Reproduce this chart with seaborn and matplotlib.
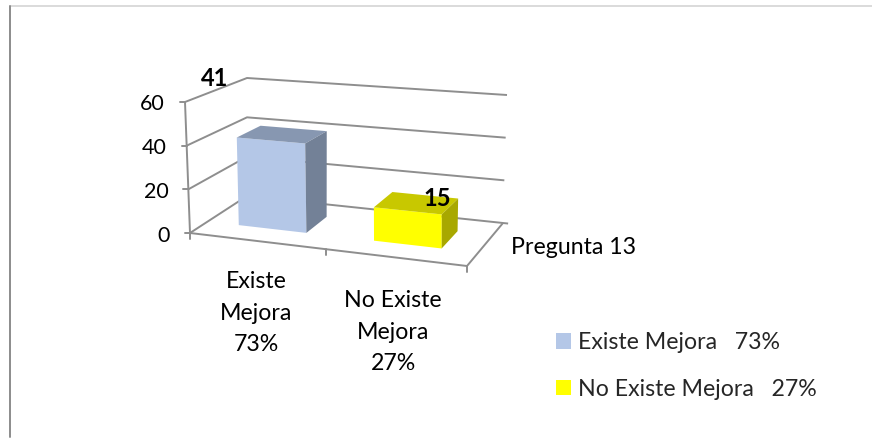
import numpy as np
import pandas as pd
import seaborn as sns
import matplotlib.pyplot as plt

from matplotlib.patches import Patch, Polygon
from matplotlib.transforms import Transform

# =============================================================================
# Data
# =============================================================================

categorias = ["Existe Mejora", "No Existe Mejora"]
valores = [41, 15]
porcentajes = ["73%", "27%"]
y_ticks = [0, 20, 40, 60]
serie = "Pregunta 13"

# front, top, side colours of each bar
color_front = ["#B4C7E7", "#FFFF00"]
color_top = ["#8797B1", "#C8C800"]
color_side = ["#738197", "#A8A800"]

# =============================================================================
# Fake Excel 3D box: pixel position of the 8 corners
# =============================================================================

front_bottom = np.array([[190, 233], [467, 266]], dtype=float)
front_top = np.array([[185, 102], [467, 124]], dtype=float)
back_bottom = np.array([[247, 196], [503, 223]], dtype=float)
back_top = np.array([[247, 78], [507, 95]], dtype=float)

x_left, x_right = -0.48, 1.52
y_max = 60
grid_color = "#8E8E8E"
font_size = 16.7


def project(x, y, z):
    x = np.asarray(x, dtype=float)
    y = np.asarray(y, dtype=float)
    u = ((x - x_left) / (x_right - x_left))[..., None]
    v = (y / y_max)[..., None]

    front = (1 - v) * ((1 - u) * front_bottom[0] + u * front_bottom[1]) + v * (
        (1 - u) * front_top[0] + u * front_top[1]
    )
    back = (1 - v) * ((1 - u) * back_bottom[0] + u * back_bottom[1]) + v * (
        (1 - u) * back_top[0] + u * back_top[1]
    )
    return (1 - z) * front + z * back


class PlaneAtDepth(Transform):
    input_dims = 2
    output_dims = 2

    def __init__(self, z):
        super().__init__()
        self.z = z

    def transform_non_affine(self, values):
        values = np.asarray(values)
        return project(values[:, 0], values[:, 1], self.z)


# =============================================================================
# Plot
# =============================================================================

sns.set_style("white")
plt.rcParams["font.family"] = ["Lato", "DejaVu Sans"]

df = pd.DataFrame({"Respuesta": categorias, "Valor": valores})

fig = plt.figure(figsize=(8.72, 4.41), dpi=100)
ax = fig.add_axes([0, 0, 1, 1])

sns.barplot(
    data=df,
    x="Respuesta",
    y="Valor",
    hue="Respuesta",
    palette=color_front,
    saturation=1,
    width=0.5,
    legend=False,
    ax=ax,
)

ax.set_xlim(0, 872)
ax.set_ylim(441, 0)
ax.set_axis_off()

z_front, z_back = 0.31, 0.72
front_transform = PlaneAtDepth(z_front) + ax.transData


def line3d(xs, ys, zs, **kwargs):
    pts = np.array([project(x, y, z) for x, y, z in zip(xs, ys, zs)])
    ax.plot(pts[:, 0], pts[:, 1], color=grid_color, linewidth=1.4,
            solid_capstyle="butt", zorder=1, **kwargs)


# walls and floor
for tick in y_ticks:
    right_end = x_right + 0.04 if tick == 0 else x_right
    line3d([x_left, x_left, right_end], [tick] * 3, [0, 1, 1])
    p = project(x_left, tick, 0)
    ax.plot([p[0] - 5, p[0]], [p[1], p[1]], color=grid_color, linewidth=1.4, zorder=1)
    ax.text(p[0] - 20, p[1] + 2.5, str(tick), ha="right", va="center", fontsize=15.5, color="black")

line3d([x_left, x_left], [0, y_max], [0, 0])
line3d([x_left, x_right, x_right], [0, 0, 0], [0, 0, 1])

for tick_x in [x_left, 0.5, x_right]:
    p = project(tick_x, 0, 0)
    ax.plot([p[0], p[0]], [p[1], p[1] + 6], color=grid_color, linewidth=1.4, zorder=1)

# bars: seaborn draws the front face, the other two faces follow from it
for bar, top, side in zip(ax.patches, color_top, color_side):
    x0 = bar.get_x()
    x1 = x0 + bar.get_width()
    h = bar.get_height()

    bar.set_transform(front_transform)
    bar.set_zorder(3)
    bar.set_clip_on(False)
    bar.set_linewidth(0)

    ax.add_patch(Polygon(
        [project(x0, h, z_front), project(x1, h, z_front),
         project(x1, h, z_back), project(x0, h, z_back)],
        facecolor=top, edgecolor="none", zorder=3,
    ))
    ax.add_patch(Polygon(
        [project(x1, 0, z_front), project(x1, h, z_front),
         project(x1, h, z_back), project(x1, 0, z_back)],
        facecolor=side, edgecolor="none", zorder=3,
    ))

# data labels
for value, pos in zip(valores, [(215, 78), (437, 198)]):
    ax.text(pos[0], pos[1], str(value), ha="center", va="center",
            fontsize=17, fontweight="bold", color="black", zorder=5)

# category labels
cat_lines = [["Existe", "Mejora"], ["No Existe", "Mejora"]]
for lines, pct, pos in zip(cat_lines, porcentajes, [(256, 282), (393, 301)]):
    label = "\n".join(lines + [pct])
    ax.text(pos[0], pos[1] - 11, label, ha="center", va="top",
            fontsize=font_size, linespacing=1.62, color="black")

ax.text(511, 248, serie, ha="left", va="center", fontsize=font_size, color="black")

# legend
handles = [
    Patch(facecolor=c, edgecolor="none", label=f"{name}   {pct}")
    for c, name, pct in zip(color_front, categorias, porcentajes)
]
ax.legend(
    handles=handles,
    frameon=False,
    loc="upper left",
    bbox_to_anchor=(556 / 872, 1 - 332 / 441),
    borderaxespad=0,
    borderpad=0,
    fontsize=font_size,
    handlelength=0.65,
    handleheight=0.65,
    handletextpad=0.3,
    labelspacing=1.1,
)

# outer frame of the pasted picture
ax.plot([10, 872], [6, 6], color="#D4D4D4", linewidth=1.2, zorder=0)
ax.plot([10, 10], [6, 437], color="#8C8C8C", linewidth=1.4, zorder=0)

fig.savefig("out.png", dpi=100)
